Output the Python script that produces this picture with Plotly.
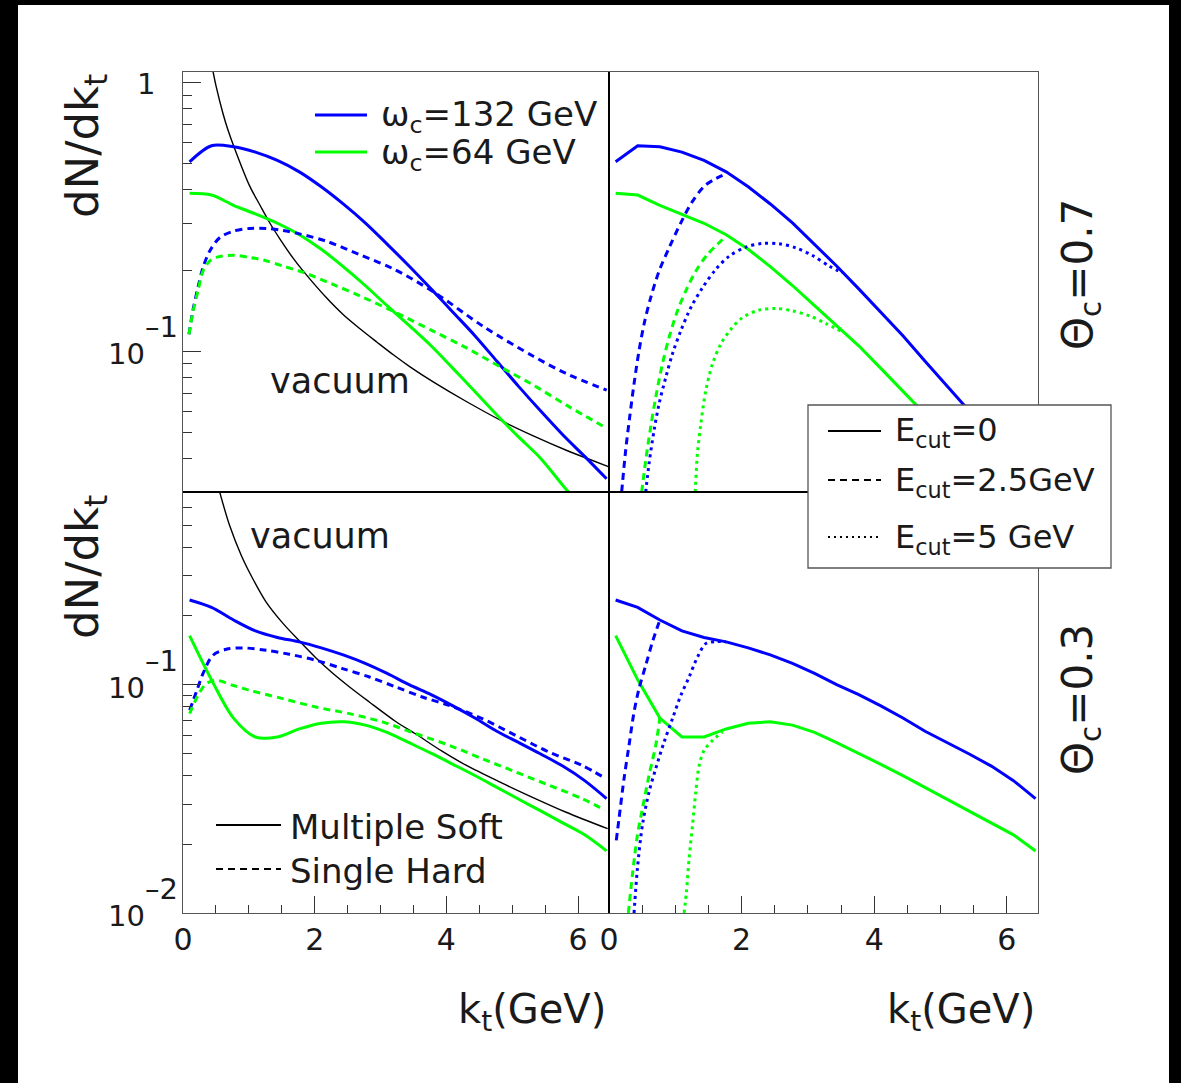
import math
import plotly.graph_objects as go

# ---------------------------------------------------------------
# Gluon kt spectra dN/dkt in medium vs. vacuum
# top row: Theta_c = 0.7, bottom row: Theta_c = 0.3
# ---------------------------------------------------------------

# kt grid (GeV) of the multiple-soft spectra (E_cut = 0)
KT = [0.1, 0.433, 0.767, 1.1, 1.433, 1.767, 2.1, 2.433, 2.767, 3.1,
      3.433, 3.767, 4.1, 4.433, 4.767, 5.1, 5.433, 5.767, 6.1, 6.433]

# ---- Theta_c = 0.7 ----
SOFT_132_T07 = [0.508, 0.583, 0.578, 0.552, 0.514, 0.466, 0.410, 0.354, 0.301, 0.251,
                0.208, 0.171, 0.140, 0.1145, 0.092, 0.074, 0.060, 0.049, 0.0407, 0.0336]
SOFT_64_T07 = [0.388, 0.382, 0.350, 0.325, 0.300, 0.272, 0.240, 0.207, 0.176, 0.148,
               0.125, 0.105, 0.0865, 0.071, 0.058, 0.048, 0.040, 0.0318, 0.0255, 0.0205]

HARD_132_T07_KT = [0.091, 0.15, 0.227, 0.303, 0.404, 0.556, 0.758, 1.01, 1.263, 1.515,
                   1.768, 2.183, 2.688, 3.194, 3.80, 4.56, 5.32, 5.81, 6.435]
HARD_132_T07 = [0.116, 0.142, 0.173, 0.205, 0.236, 0.265, 0.280, 0.287, 0.287, 0.282,
                0.274, 0.257, 0.229, 0.203, 0.167, 0.124, 0.096, 0.083, 0.0718]
HARD_64_T07_KT = [0.091, 0.15, 0.227, 0.303, 0.404, 0.505, 0.758, 1.01, 1.22, 1.513,
                  1.827, 2.27, 2.688, 3.194, 3.79, 4.29, 4.865, 5.32, 5.83, 6.435]
HARD_64_T07 = [0.116, 0.140, 0.168, 0.199, 0.217, 0.224, 0.228, 0.224, 0.219, 0.208,
               0.197, 0.178, 0.161, 0.141, 0.1194, 0.1036, 0.0864, 0.075, 0.063, 0.0518]

VAC_T07_KT = [0.45, 0.505, 0.606, 0.682, 0.768, 1.01, 1.17, 1.321, 1.473, 1.675, 1.827,
              2.183, 2.435, 2.688, 2.942, 3.194, 3.448, 3.80, 4.31, 4.865, 5.32, 5.83,
              6.16, 6.46]
VAC_T07 = [1.12, 0.965, 0.770, 0.668, 0.583, 0.414, 0.350, 0.300, 0.262, 0.222, 0.199,
           0.158, 0.137, 0.1215, 0.1085, 0.0972, 0.0877, 0.0771, 0.065, 0.0548, 0.0485,
           0.0428, 0.0398, 0.0373]

CUT25_132_T07_KT = [0.191, 0.252, 0.312, 0.378, 0.453, 0.529, 0.629, 0.755, 0.906,
                    1.083, 1.259, 1.46, 1.712]
CUT25_132_T07 = [0.030, 0.043, 0.057, 0.0759, 0.1007, 0.1265, 0.1586, 0.199, 0.243,
                 0.301, 0.362, 0.417, 0.452]
CUT25_64_T07_KT = [0.493, 0.554, 0.629, 0.705, 0.806, 0.906, 1.032, 1.158, 1.309,
                   1.485, 1.712]
CUT25_64_T07 = [0.030, 0.0394, 0.0524, 0.0676, 0.090, 0.1128, 0.1416, 0.168, 0.199,
                0.2296, 0.261]
CUT5_132_T07_KT = [0.554, 0.604, 0.68, 0.755, 0.856, 0.957, 1.083, 1.234, 1.41, 1.611,
                   1.813, 2.064, 2.316, 2.568, 2.82, 3.07, 3.32, 3.525]
CUT5_132_T07 = [0.030, 0.0383, 0.0509, 0.0638, 0.080, 0.098, 0.1194, 0.1457, 0.1727,
                0.202, 0.2263, 0.2445, 0.2523, 0.2515, 0.243, 0.2275, 0.208, 0.196]
CUT5_64_T07_KT = [1.30, 1.334, 1.385, 1.46, 1.561, 1.687, 1.838, 2.014, 2.266, 2.518,
                  2.77, 3.02, 3.273, 3.525]
CUT5_64_T07 = [0.030, 0.0417, 0.0538, 0.0716, 0.090, 0.1067, 0.121, 0.1337, 0.1426,
               0.1446, 0.1416, 0.1358, 0.127, 0.118]

# ---- Theta_c = 0.3 ----
SOFT_132_T03 = [0.235, 0.218, 0.192, 0.172, 0.161, 0.154, 0.145, 0.135, 0.124, 0.112,
                0.100, 0.0905, 0.0808, 0.0715, 0.0625, 0.0558, 0.0497, 0.0440, 0.0380, 0.0317]
SOFT_64_T03 = [0.164, 0.105, 0.0714, 0.059, 0.059, 0.0640, 0.0678, 0.0688, 0.0665, 0.0618,
               0.0557, 0.0501, 0.0448, 0.0400, 0.0355, 0.0315, 0.0280, 0.0248, 0.0220, 0.0187]

HARD_132_T03_KT = [0.101, 0.202, 0.303, 0.4545, 0.657, 0.909, 1.263, 1.616, 2.02, 2.424,
                   2.83, 3.23, 3.636, 4.04, 4.545, 5.05, 5.556, 6.06, 6.41]
HARD_132_T03 = [0.0773, 0.0929, 0.1117, 0.1345, 0.1429, 0.1449, 0.1415, 0.1359, 0.1279,
                0.1176, 0.1081, 0.0978, 0.0883, 0.0812, 0.0710, 0.060, 0.0507, 0.0443, 0.039]
HARD_64_T03_KT = [0.101, 0.227, 0.354, 0.505, 0.758, 1.01, 1.515, 2.02, 2.525, 3.03,
                  3.535, 4.04, 4.545, 5.05, 5.556, 6.06, 6.41]
HARD_64_T03 = [0.0747, 0.0898, 0.101, 0.1045, 0.0994, 0.0945, 0.0869, 0.0798, 0.0747,
               0.0687, 0.0610, 0.0543, 0.0474, 0.0415, 0.0363, 0.0317, 0.0282]

VAC_T03_KT = [0.556, 0.707, 0.884, 1.06, 1.263, 1.515, 1.793, 2.02, 2.27, 2.525, 2.83,
              3.23, 3.535, 3.94, 4.29, 4.80, 5.30, 5.81, 6.45]
VAC_T03 = [0.70, 0.499, 0.369, 0.291, 0.230, 0.186, 0.1528, 0.131, 0.1125, 0.0980, 0.0840,
           0.0690, 0.0608, 0.0510, 0.0445, 0.0376, 0.0322, 0.0277, 0.0234]

CUT25_132_T03_KT = [0.11, 0.151, 0.227, 0.302, 0.378, 0.453, 0.554, 0.655, 0.767]
CUT25_132_T03 = [0.0208, 0.0259, 0.0388, 0.0543, 0.076, 0.0961, 0.1216, 0.1538, 0.192]
CUT25_64_T03_KT = [0.292, 0.352, 0.428, 0.5035, 0.604, 0.705, 0.767]
CUT25_64_T03 = [0.010, 0.0146, 0.0219, 0.0286, 0.0401, 0.0543, 0.0714]
CUT5_132_T03_KT = [0.378, 0.428, 0.5035, 0.604, 0.705, 0.831, 0.957, 1.083, 1.208, 1.334,
                   1.46, 1.611, 1.762]
CUT5_132_T03 = [0.010, 0.0156, 0.0242, 0.0339, 0.0429, 0.0561, 0.0710, 0.0898, 0.108,
                0.132, 0.1513, 0.1545, 0.154]
CUT5_64_T03_KT = [1.133, 1.168, 1.208, 1.259, 1.309, 1.36, 1.435, 1.561, 1.712]
CUT5_64_T03 = [0.010, 0.0124, 0.0173, 0.0242, 0.0339, 0.0443, 0.0516, 0.0570, 0.0621]

# axis ticks
X_MAJOR = [0, 2, 4, 6]
X_MAJOR_TEXT = ["0", "2", "4", "6"]
X_MINOR = [0.5, 1, 1.5, 2.5, 3, 3.5, 4.5, 5, 5.5]
Y_TOP_MAJOR = [1, 0.1]
Y_TOP_MINOR = [0.03, 0.04, 0.05, 0.06, 0.07, 0.08, 0.09,
               0.2, 0.3, 0.4, 0.5, 0.6, 0.7, 0.8, 0.9]
Y_BOT_MAJOR = [0.1, 0.01]
Y_BOT_MINOR = [0.02, 0.03, 0.04, 0.05, 0.06, 0.07, 0.08, 0.09, 0.2, 0.3, 0.4, 0.5, 0.6]

# ---------------------------------------------------------------
# page geometry (pixels)
W, H = 1181, 1083
XL, XM, XR = 183, 609, 1038
YT, YM, YB = 72, 492, 913
X_RANGE = [0, 6.47]
Y_TOP_RANGE = [-1.5229, 0.04]
Y_BOT_RANGE = [-2.0, -0.156]


def fx(p):
    return p / W


def fy(p):
    return 1 - p / H


BLUE = "rgb(0,0,255)"
GREEN = "rgb(0,255,0)"
FONT = "DejaVu Sans"
TXT = "#1a1a1a"
FRAME = "#555555"
DASH = "7px,5px"
DOT = "3px,4px"

fig = go.Figure()


def curve(x, y, color, xa, ya, dash="solid", width=3, shape="linear"):
    line = dict(color=color, dash=dash, width=width, shape=shape)
    if shape == "spline":
        line["smoothing"] = 0.9
    fig.add_trace(go.Scatter(x=x, y=y, mode="lines", line=line, xaxis=xa, yaxis=ya,
                             showlegend=False, hoverinfo="skip"))


# top-left: multiple soft vs single hard, Theta_c = 0.7
curve(VAC_T07_KT, VAC_T07, "black", "x", "y", width=1.4, shape="spline")
curve(KT, SOFT_132_T07, BLUE, "x", "y", shape="spline")
curve(KT, SOFT_64_T07, GREEN, "x", "y", shape="spline")
curve(HARD_132_T07_KT, HARD_132_T07, BLUE, "x", "y", dash=DASH, shape="spline")
curve(HARD_64_T07_KT, HARD_64_T07, GREEN, "x", "y", dash=DASH, shape="spline")

# top-right: energy cuts, Theta_c = 0.7
curve(KT, SOFT_132_T07, BLUE, "x2", "y2")
curve(KT, SOFT_64_T07, GREEN, "x2", "y2")
curve(CUT25_132_T07_KT, CUT25_132_T07, BLUE, "x2", "y2", dash=DASH, shape="spline")
curve(CUT25_64_T07_KT, CUT25_64_T07, GREEN, "x2", "y2", dash=DASH, shape="spline")
curve(CUT5_132_T07_KT, CUT5_132_T07, BLUE, "x2", "y2", dash=DOT, shape="spline")
curve(CUT5_64_T07_KT, CUT5_64_T07, GREEN, "x2", "y2", dash=DOT, shape="spline")

# bottom-left: multiple soft vs single hard, Theta_c = 0.3
curve(VAC_T03_KT, VAC_T03, "black", "x3", "y3", width=1.4, shape="spline")
curve(KT, SOFT_132_T03, BLUE, "x3", "y3", shape="spline")
curve(KT, SOFT_64_T03, GREEN, "x3", "y3", shape="spline")
curve(HARD_132_T03_KT, HARD_132_T03, BLUE, "x3", "y3", dash=DASH, shape="spline")
curve(HARD_64_T03_KT, HARD_64_T03, GREEN, "x3", "y3", dash=DASH, shape="spline")

# bottom-right: energy cuts, Theta_c = 0.3
curve(KT, SOFT_132_T03, BLUE, "x4", "y4")
curve(KT, SOFT_64_T03, GREEN, "x4", "y4")
curve(CUT25_132_T03_KT, CUT25_132_T03, BLUE, "x4", "y4", dash=DASH, shape="spline")
curve(CUT25_64_T03_KT, CUT25_64_T03, GREEN, "x4", "y4", dash=DASH, shape="spline")
curve(CUT5_132_T03_KT, CUT5_132_T03, BLUE, "x4", "y4", dash=DOT, shape="spline")
curve(CUT5_64_T03_KT, CUT5_64_T03, GREEN, "x4", "y4", dash=DOT, shape="spline")

# ---------------------------------------------------------------
dom_l = [fx(XL), fx(XM)]
dom_r = [fx(XM), fx(XR)]
dom_t = [fy(YM), fy(YT)]
dom_b = [fy(YB), fy(YM)]

frame = dict(showline=True, mirror=True, linecolor=FRAME, linewidth=1.3,
             showgrid=False, zeroline=False, automargin=False)


def xaxis(domain, anchor, labels):
    ax = dict(domain=domain, anchor=anchor, range=X_RANGE, **frame)
    if labels:
        ax.update(tickmode="array", tickvals=X_MAJOR, ticktext=X_MAJOR_TEXT,
                  ticks="inside", ticklen=17, tickwidth=1.3, tickcolor="#333",
                  minor=dict(tickmode="array", tickvals=X_MINOR, ticks="inside",
                             ticklen=8, tickwidth=1.3, tickcolor="#333", showgrid=False),
                  tickfont=dict(family=FONT, size=30, color=TXT), ticklabelstandoff=0)
    else:
        ax.update(showticklabels=False, ticks="")
    return ax


def yaxis(domain, anchor, rng, major=None, minor=None):
    ax = dict(domain=domain, anchor=anchor, type="log", range=rng,
              showticklabels=False, **frame)
    if major:
        ax.update(tickmode="array", tickvals=major,
                  ticks="inside", ticklen=18, tickwidth=1.3, tickcolor="#333",
                  minor=dict(tickmode="array", tickvals=minor, ticks="inside",
                             ticklen=9, tickwidth=1.3, tickcolor="#333", showgrid=False))
    else:
        ax.update(ticks="")
    return ax


fig.update_layout(
    width=W, height=H, autosize=False, margin=dict(l=0, r=0, t=0, b=0, pad=0),
    paper_bgcolor="black", plot_bgcolor="white", showlegend=False,
    xaxis=xaxis(dom_l, "y", False),
    yaxis=yaxis(dom_t, "x", Y_TOP_RANGE, Y_TOP_MAJOR, Y_TOP_MINOR),
    xaxis2=xaxis(dom_r, "y2", False),
    yaxis2=yaxis(dom_t, "x2", Y_TOP_RANGE),
    xaxis3=xaxis(dom_l, "y3", True),
    yaxis3=yaxis(dom_b, "x3", Y_BOT_RANGE, Y_BOT_MAJOR, Y_BOT_MINOR),
    xaxis4=xaxis(dom_r, "y4", True),
    yaxis4=yaxis(dom_b, "x4", Y_BOT_RANGE),
)

# ---------------------------------------------------------------
shapes = []


def pline(x0, y0, x1, y1, color="black", width=2, dash="solid"):
    shapes.append(dict(type="line", xref="paper", yref="paper",
                       x0=fx(x0), y0=fy(y0), x1=fx(x1), y1=fy(y1),
                       line=dict(color=color, width=width, dash=dash), layer="above"))


# white page inside the black border
shapes.append(dict(type="rect", xref="paper", yref="paper", x0=fx(18), x1=fx(1169),
                   y0=0, y1=fy(5), fillcolor="white", line=dict(width=0), layer="below"))

# pad separators
pline(XM, YT, XM, YB, width=2)
pline(XL, YM, XR, YM, width=2)

# omega_c key (top-left)
pline(315, 115, 367, 115, color=BLUE, width=3)
pline(315, 152, 367, 152, color=GREEN, width=3)

# soft / hard key (bottom-left)
pline(216, 825, 281, 825, width=2)
pline(216, 869, 281, 869, width=2, dash=DASH)

# E_cut key box (right)
shapes.append(dict(type="rect", xref="paper", yref="paper", x0=fx(808), x1=fx(1111),
                   y0=fy(568), y1=fy(405), fillcolor="white",
                   line=dict(color=FRAME, width=1.3), layer="above"))
pline(828, 431, 881, 431, width=2)
pline(828, 480, 881, 480, width=2, dash=DASH)
pline(828, 537, 881, 537, width=2, dash="2px,4px")

fig.update_layout(shapes=shapes)

# ---------------------------------------------------------------
ann = []


def label(text, x, y, size, xanchor="left", yanchor="middle", angle=0):
    ann.append(dict(text=text, x=fx(x), y=fy(y), xref="paper", yref="paper",
                    xanchor=xanchor, yanchor=yanchor, textangle=angle, showarrow=False,
                    font=dict(family=FONT, size=size, color=TXT)))


def ylabel(value, yref):
    """Decade label at a log-axis tick: '1' or '10' with a raised exponent."""
    exp = round(math.log10(value))
    common = dict(xref="paper", yref=yref, y=exp, showarrow=False, yanchor="middle",
                  font=dict(family=FONT, size=29, color=TXT))
    if exp == 0:
        ann.append(dict(text="1", x=fx(157), xanchor="right", yshift=-1, **common))
    else:
        ann.append(dict(text="10", x=fx(147), xanchor="right", yshift=-3, **common))
        ann.append(dict(text="\u2013%d" % abs(exp), x=fx(143), xanchor="left",
                        yshift=24, **common))


for v in Y_TOP_MAJOR:
    ylabel(v, "y")
for v in Y_BOT_MAJOR:
    ylabel(v, "y3")

label("\u03c9<sub>c</sub>=132 GeV", 379, 117, 34)
label("\u03c9<sub>c</sub>=64 GeV", 379, 155, 34)
label("vacuum", 268, 381, 35)
label("vacuum", 248, 536, 35)
label("Multiple Soft", 288, 827, 34)
label("Single Hard", 288, 871, 34)
label("E<sub>cut</sub>=0", 893, 432, 32)
label("E<sub>cut</sub>=2.5GeV", 893, 482, 32)
label("E<sub>cut</sub>=5 GeV", 893, 539, 32)

label("\u0398<sub>c</sub>=0.7", 1080, 275, 42, xanchor="center", angle=-90)
label("\u0398<sub>c</sub>=0.3", 1080, 700, 42, xanchor="center", angle=-90)
label("dN/dk<sub>t</sub>", 85, 146, 45, xanchor="center", angle=-90)
label("dN/dk<sub>t</sub>", 85, 567, 45, xanchor="center", angle=-90)
label("k<sub>t</sub>(GeV)", 532, 1012, 40, xanchor="center")
label("k<sub>t</sub>(GeV)", 961, 1012, 40, xanchor="center")

fig.update_layout(annotations=ann)

fig.write_html("out.html", config={"responsive": False})
